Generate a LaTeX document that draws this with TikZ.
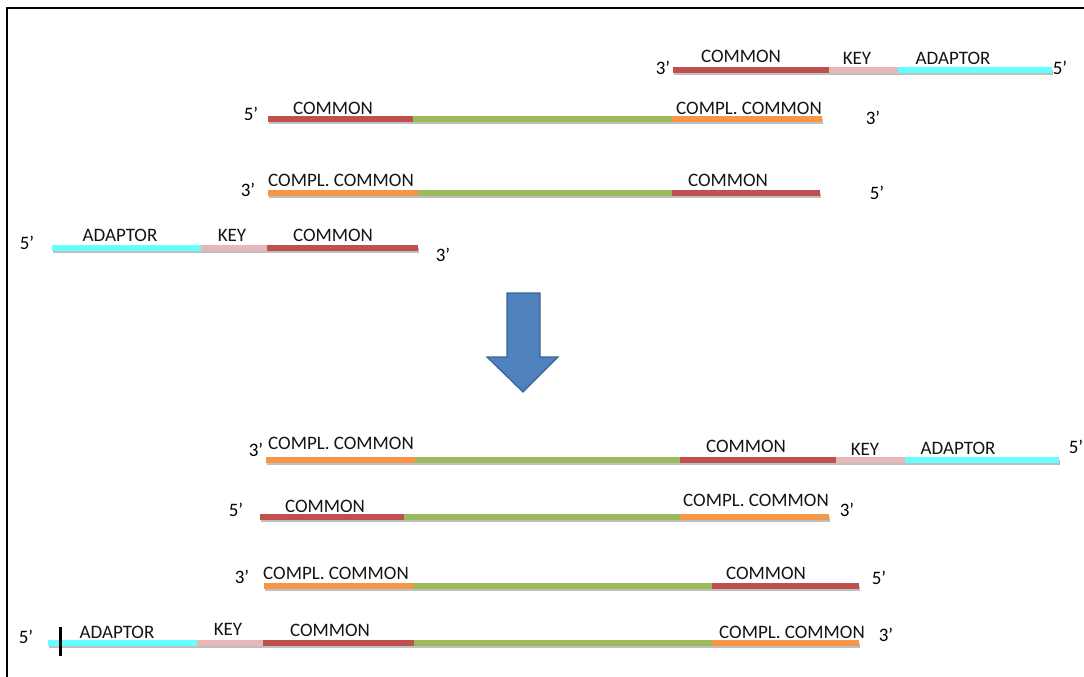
\documentclass[tikz,border=0pt]{standalone}
\usepackage{fontspec}
\setmainfont{Carlito}
\definecolor{cred}{HTML}{C0504D}
\definecolor{cgreen}{HTML}{9BBB59}
\definecolor{corange}{HTML}{F79646}
\definecolor{ccyan}{HTML}{66FFFF}
\definecolor{cpink}{HTML}{E6B9B8}
\definecolor{cblue}{HTML}{4F81BD}
\definecolor{cblueb}{HTML}{3A6496}
\newcommand\strandshadow[3]{\draw[shad] (#2+1,#1+2.5) -- (#3+1,#1+2.5);}
\newcommand\strandseg[4]{\draw[seg,#4] (#2,#1) -- (#3,#1);}
\begin{document}
\begin{tikzpicture}[x=1pt,y=-1pt,
  seg/.style={line width=6pt},
  shad/.style={line width=5pt,black!25},
  lab/.style={font=\fontsize{19}{20}\selectfont,inner sep=0pt,text=black!92},
  endlab/.style={font=\fontsize{19}{20}\selectfont,inner sep=0pt,text=black}]
\useasboundingbox (0,0) rectangle (1084,677);
\fill[white] (0,0) rectangle (1084,677);
\draw[line width=2.8pt] (7,677) -- (7,8) -- (1084,8);
% Row 1
\strandshadow{70}{673}{1052}
\strandseg{70}{673}{829}{cred}
\strandseg{70}{829}{898}{cpink}
\strandseg{70}{898}{1052}{ccyan}
\node[endlab] (r1a) at (663,68) {3’};
\node[endlab] (r1b) at (1060,68) {5’};
\node[lab] (r1c) at (741,56) {COMMON};
\node[lab] (r1k) at (857,58) {KEY};
\node[lab] (r1d) at (953,58) {ADAPTOR};
% Row 2
\strandshadow{119}{268}{822}
\strandseg{119}{268}{413}{cred}
\strandseg{119}{413}{672}{cgreen}
\strandseg{119}{672}{822}{corange}
\node[endlab] (r2a) at (251,114) {5’};
\node[endlab] (r2b) at (873,118) {3’};
\node[lab] (r2c) at (333,108) {COMMON};
\node[lab] (r2d) at (749,108) {COMPL. COMMON};
% Row 3
\strandshadow{193}{268}{820}
\strandseg{193}{268}{418}{corange}
\strandseg{193}{418}{672}{cgreen}
\strandseg{193}{672}{820}{cred}
\node[endlab] (r3a) at (248,190) {3’};
\node[endlab] (r3b) at (877,193) {5’};
\node[lab] (r3c) at (341,180) {COMPL. COMMON};
\node[lab] (r3d) at (728,180) {COMMON};
% Row 4
\strandshadow{248}{52}{418}
\strandseg{248}{52}{201}{ccyan}
\strandseg{248}{201}{267}{cpink}
\strandseg{248}{267}{418}{cred}
\node[endlab] (r4a) at (27,243) {5’};
\node[endlab] (r4b) at (443,255) {3’};
\node[lab] (r4c) at (120,235) {ADAPTOR};
\node[lab] (r4k) at (232,235) {KEY};
\node[lab] (r4d) at (333,235) {COMMON};
% Arrow
\draw[fill=cblue,draw=cblueb,line width=1.2pt,line join=miter]
  (507,293) -- (540,293) -- (540,357) -- (558,357) -- (523,392) -- (487,357) -- (507,357) -- cycle;
% Row 5
\strandshadow{460}{266}{1059}
\strandseg{460}{266}{415}{corange}
\strandseg{460}{415}{680}{cgreen}
\strandseg{460}{680}{836}{cred}
\strandseg{460}{836}{905}{cpink}
\strandseg{460}{905}{1059}{ccyan}
\node[endlab] (r5a) at (256,450) {3’};
\node[endlab] (r5b) at (1076,447) {5’};
\node[lab] (r5c) at (341,443) {COMPL. COMMON};
\node[lab] (r5d) at (746,446) {COMMON};
\node[lab] (r5k) at (865,449) {KEY};
\node[lab] (r5e) at (958,448) {ADAPTOR};
% Row 6
\strandshadow{517}{260}{829}
\strandseg{517}{260}{404}{cred}
\strandseg{517}{404}{680}{cgreen}
\strandseg{517}{680}{829}{corange}
\node[endlab] (r6a) at (236,510) {5’};
\node[endlab] (r6b) at (847,510) {3’};
\node[lab] (r6c) at (325,506) {COMMON};
\node[lab] (r6d) at (756,500) {COMPL. COMMON};
% Row 7
\strandshadow{586}{264}{859}
\strandseg{586}{264}{413}{corange}
\strandseg{586}{413}{712}{cgreen}
\strandseg{586}{712}{859}{cred}
\node[endlab] (r7a) at (242,577) {3’};
\node[endlab] (r7b) at (879,578) {5’};
\node[lab] (r7c) at (336,573) {COMPL. COMMON};
\node[lab] (r7d) at (766,573) {COMMON};
% Row 8
\strandshadow{643}{48}{859}
\strandseg{643}{48}{197}{ccyan}
\strandseg{643}{197}{263}{cpink}
\strandseg{643}{263}{414}{cred}
\strandseg{643}{414}{712}{cgreen}
\strandseg{643}{712}{859}{corange}
\draw[line width=3pt] (60,627) -- (60,656);
\node[endlab] (r8a) at (26,637) {5’};
\node[endlab] (r8b) at (886,635) {3’};
\node[lab] (r8c) at (117,632) {ADAPTOR};
\node[lab] (r8k) at (228,629) {KEY};
\node[lab] (r8d) at (330,630) {COMMON};
\node[lab] (r8e) at (792,632) {COMPL. COMMON};
\end{tikzpicture}
\end{document}
